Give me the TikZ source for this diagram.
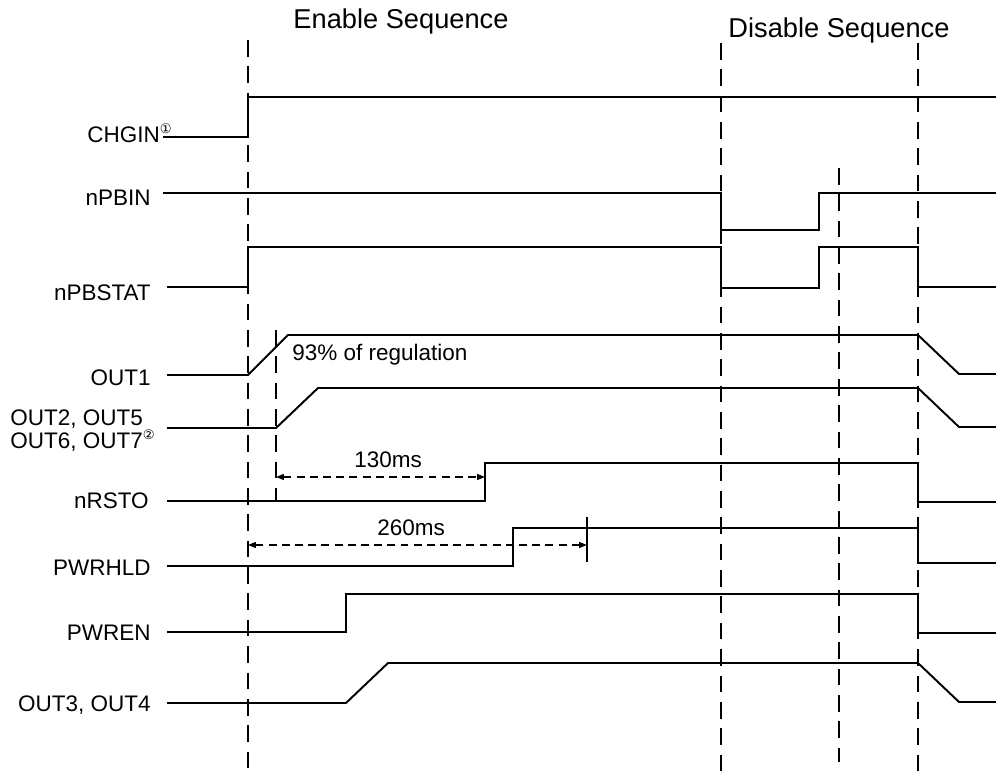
\documentclass[tikz,border=0pt]{standalone}
\usepackage{fontspec}
\setmainfont{Liberation Sans}
\newfontfamily\circfont{DejaVu Sans}
\usetikzlibrary{arrows.meta}
\newcommand{\cnum}[1]{\raisebox{5pt}{\fontsize{7.5}{8}\circfont #1}}

\begin{document}
\begin{tikzpicture}[x=0.02cm,y=-0.02cm,
  wv/.style={line width=1.1pt},
  gd/.style={line width=0.9pt,dash pattern=on 9.5pt off 5.5pt},
  lb/.style={anchor=east,inner sep=0pt,text height=9.2pt,text depth=0pt,font=\fontsize{12.8}{15}\selectfont},
  tx/.style={inner sep=0pt,font=\fontsize{12.8}{15}\selectfont},
  tt/.style={inner sep=0pt,font=\fontsize{15.5}{18}\selectfont},
  dm/.style={{Triangle[length=4.5pt,width=3.4pt]}-{Triangle[length=4.5pt,width=3.4pt]},line width=0.8pt,dash pattern=on 4.5pt off 3pt}]
  \useasboundingbox (0,0) rectangle (996,777);
  % headings
  \node[tt] (en) at (401,21) {Enable Sequence};
  \node[tt] (dis) at (839,30) {Disable Sequence};
  % guide lines
  \draw[gd] (248,40) -- (248,777);
  \draw[gd] (276,330) -- (276,502);
  \draw[gd] (721,43) -- (721,777);
  \draw[gd] (839,168) -- (839,762);
  \draw[gd] (918,43) -- (918,777);
  % signal names
  \node[lb] (chgin) at (172,134) {CHGIN\cnum{①}};
  \node[lb] (pbin) at (151,197) {nPBIN};
  \node[lb] (pbstat) at (151,292) {nPBSTAT};
  \node[lb] (out1) at (151,377) {OUT1};
  \node[tx,anchor=north west,align=left,font=\fontsize{12.8}{11.3}\selectfont] (out2) at (10,409) {OUT2, OUT5\\OUT6, OUT7\cnum{②}};
  \node[lb] (rsto) at (149,500) {nRSTO};
  \node[lb] (hld) at (151,567) {PWRHLD};
  \node[lb] (pwren) at (151,632) {PWREN};
  \node[lb] (out3) at (151,703) {OUT3, OUT4};
  % waveforms
  \draw[wv] (163,137) -- (248,137) -- (248,97) -- (996,97);
  \draw[wv] (163,193) -- (721,193) -- (721,230) -- (819,230) -- (819,193) -- (996,193);
  \draw[wv] (167,287) -- (248,287) -- (248,247) -- (721,247) -- (721,288) -- (819,288) -- (819,247) -- (918,247) -- (918,287) -- (996,287);
  \draw[wv] (167,375) -- (248,375) -- (288,335) -- (918,335) -- (959,374) -- (996,374);
  \draw[wv] (167,428) -- (276,428) -- (318,388) -- (918,388) -- (959,427) -- (996,427);
  \draw[wv] (167,501) -- (485,501) -- (485,463) -- (918,463) -- (918,502) -- (996,502);
  \draw[wv] (167,566) -- (513,566) -- (513,528) -- (918,528) -- (918,563) -- (996,563);
  \draw[wv] (167,632) -- (346,632) -- (346,594) -- (918,594) -- (918,633) -- (996,633);
  \draw[wv] (167,703) -- (346,703) -- (388,663) -- (918,663) -- (959,702) -- (996,702);
  % timings
  \node[tx,anchor=west] (reg) at (292,355) {93\% of regulation};
  \coordinate (r0) at (276,477);
  \coordinate (r1) at (485,477);
  \draw[dm] (r0) -- (r1);
  \node[tx] (t130) at (388,460) {130ms};
  \coordinate (h0) at (248,545);
  \coordinate (h1) at (587,545);
  \coordinate (k0) at (587,517);
  \coordinate (k1) at (587,562);
  \draw[wv,line width=0.9pt] (k0) -- (k1);
  \draw[dm] (h0) -- (h1);
  \node[tx] (t260) at (411,528) {260ms};
\end{tikzpicture}
\end{document}
